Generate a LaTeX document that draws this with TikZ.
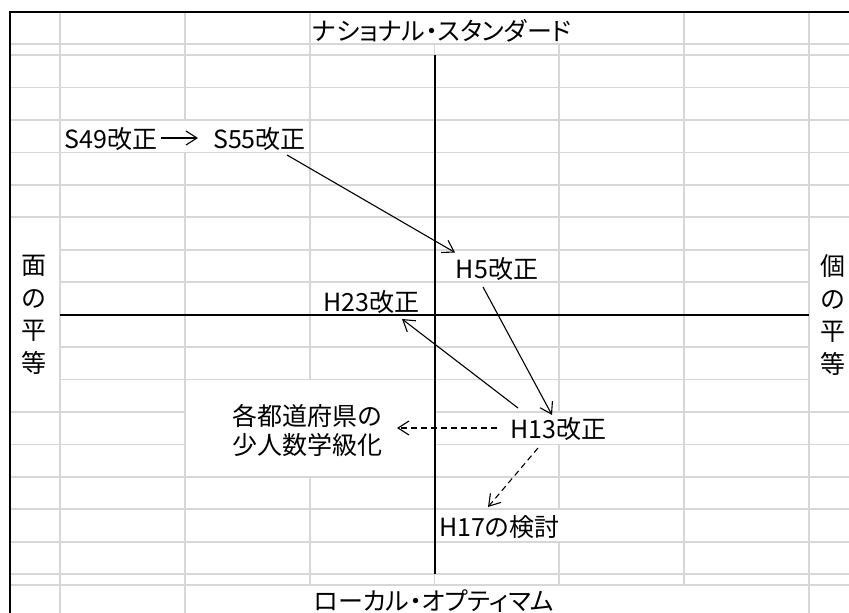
\documentclass[tikz,border=0pt]{standalone}
\usepackage{fontspec}
\setmainfont{Noto Sans CJK JP}
\newfontfamily\pfont{Noto Sans CJK JP}[RawFeature=+palt]
\usetikzlibrary{arrows.meta,calc}
\definecolor{gridc}{RGB}{215,215,215}
\begin{document}
\begin{tikzpicture}[x=1pt,y=-1pt,
  gridline/.style={draw=gridc,line width=1.7pt},
  axis/.style={line width=2pt,black},
  lbl/.style={inner sep=0pt,font=\fontsize{25}{30}\selectfont},
  conn/.style={line width=1.1pt,-{Straight Barb[length=11pt,width=14pt,line width=1.1pt]}},
  dconn/.style={conn,dash pattern=on 6pt off 4pt}]
\useasboundingbox (0,0) rectangle (849,613);
% spreadsheet grid
\foreach \x in {60,185,310,434.5,559,684,809}
  \draw[gridline] (\x,12) -- (\x,613);
\foreach \y in {44,55,87.45,119.9,152.35,184.8,217.25,249.7,282.15,314.6,347.05,379.5,411.95,444.4,476.85,509.3,541.75,574.2,585}
  \draw[gridline] (10,\y) -- (849,\y);
% text box backgrounds
\fill[white] (311,13) rectangle (682,43.1);
\fill[white] (61,120.8) rectangle (309,151.5);
\fill[white] (11,218.1) rectangle (59.1,411.1);
\fill[white] (809.9,218.1) rectangle (849,411.1);
\fill[white] (185.9,380.4) rectangle (433.5,476);
\fill[white] (435.5,412.8) rectangle (615,443.5);
\fill[white] (435.5,510.2) rectangle (566,540.9);
\fill[white] (185.9,585.9) rectangle (808.1,613);
% axes and border
\draw[axis] (434.5,55) -- (434.5,574);
\draw[axis] (60,314.5) -- (809,314.5);
\draw[line width=2pt] (9.5,613) -- (9.5,12) -- (849,12);
% labels
\node[lbl] (ns) at (442,31) {\pfont ナショナル・スタンダード};
\node[lbl] (lo) at (434,601) {\pfont ローカル・オプティマム};
\node[lbl,align=center,font=\fontsize{25}{32.5}\selectfont] (men) at (34,315) {面\\の\\平\\等};
\node[lbl,align=center,font=\fontsize{25}{32.5}\selectfont] (ko) at (833,315) {個\\の\\平\\等};
\node[lbl] (s49) at (111,139) {S49改正};
\node[lbl] (s55) at (259.5,139) {S55改正};
\node[lbl] (h5) at (497,269) {H5改正};
\node[lbl] (h23) at (371.5,302) {H23改正};
\node[lbl] (h13) at (558.5,429.5) {H13改正};
\node[lbl,align=center,font=\fontsize{25}{29}\selectfont] (pref) at (307.5,430) {各都道府県の\\少人数学級化};
\node[lbl] (h17) at (499.5,527) {H17の検討};
% connectors
\draw[conn] ($(s49.center)+(50,-1)$) -- ($(s55.center)+(-61.5,-1)$);
\draw[conn] ($(s55.center)+(27.5,16)$) -- ($(h5.center)+(-42,-16.5)$);
\draw[conn] ($(h5.center)+(-14,18)$) -- ($(h13.center)+(-6.5,-14.5)$);
\draw[conn] ($(h13.center)+(-40.5,-21.5)$) -- ($(h23.center)+(30.5,17)$);
\draw[dconn] ($(h13.center)+(-61.5,-1.5)$) -- ($(pref.center)+(89.5,-2)$);
\draw[dconn] ($(h13.center)+(-20.5,18.5)$) -- ($(h17.center)+(-11.5,-20)$);
\end{tikzpicture}
\end{document}
